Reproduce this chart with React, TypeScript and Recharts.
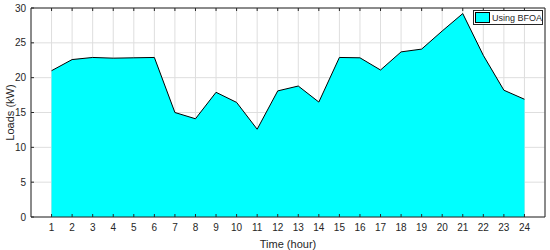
import { ComposedChart, Area, XAxis, YAxis, CartesianGrid, Legend } from 'recharts';

const hours = [1, 2, 3, 4, 5, 6, 7, 8, 9, 10, 11, 12, 13, 14, 15, 16, 17, 18, 19, 20, 21, 22, 23, 24];
const loadsBFOA = [21.0, 22.6, 22.9, 22.8, 22.85, 22.9, 15.0, 14.1, 17.9, 16.45, 12.6, 18.1, 18.8, 16.5, 22.9, 22.85, 21.1, 23.7, 24.1, 26.7, 29.2, 23.2, 18.2, 16.9];
const xTicks = hours;
const yTicks = [0, 5, 10, 15, 20, 25, 30];

const data = hours.map((h, i) => ({ hour: h, load: loadsBFOA[i] }));

const FONT = '"Liberation Sans", Arial, Helvetica, sans-serif';
const INK = '#262626';
const TICK_LEN = 3;
const X_MARGIN = 6;
const Y_MARGIN = 5;

const BottomTick = ({ x, y, payload }: any) => (
    <g>
        <line x1={x} x2={x} y1={y - X_MARGIN} y2={y - X_MARGIN - TICK_LEN} stroke={INK} strokeWidth={1} />
        <text x={x} y={y} dy="0.75em" textAnchor="middle" fill={INK} fontSize={10} fontFamily={FONT}>
            {payload.value}
        </text>
    </g>
);

const LeftTick = ({ x, y, payload }: any) => (
    <g>
        <line x1={x + Y_MARGIN} x2={x + Y_MARGIN + TICK_LEN} y1={y} y2={y} stroke={INK} strokeWidth={1} />
        <text x={x} y={y} dy="0.36em" textAnchor="end" fill={INK} fontSize={10} fontFamily={FONT}>
            {payload.value}
        </text>
    </g>
);

const TopTick = ({ x, y }: any) => (
    <line x1={x} x2={x} y1={y} y2={y + TICK_LEN} stroke={INK} strokeWidth={1} />
);

const RightTick = ({ x, y }: any) => (
    <line x1={x} x2={x - TICK_LEN} y1={y} y2={y} stroke={INK} strokeWidth={1} />
);

const YLabel = ({ viewBox }: any) => {
    const cx = viewBox.x + 10;
    const cy = viewBox.y + viewBox.height / 2;
    return (
        <text x={cx} y={cy} transform={`rotate(-90, ${cx}, ${cy})`} textAnchor="middle" dominantBaseline="central" fill={INK} fontSize={11} fontFamily={FONT}>
            Loads (kW)
        </text>
    );
};

const LegendBox = () => (
    <div style={{ display: 'flex', alignItems: 'center', background: '#fff', border: `1px solid ${INK}`, height: 15, width: 70, padding: '0 1px', fontFamily: FONT, fontSize: 9, color: INK, boxSizing: 'border-box', whiteSpace: 'nowrap' }}>
        <span style={{ display: 'inline-block', width: 13, height: 9, background: '#00FFFF', border: '1px solid #000', marginRight: 2, flexShrink: 0 }} />
        <span>Using BFOA</span>
    </div>
);

const App = () => {
    return (
        <div style={{ position: 'absolute', left: 0, top: 0, width: 550, height: 250, background: '#fff' }}>
            <ComposedChart width={550} height={250} data={data} margin={{ top: 7, right: 4, bottom: 0, left: 0 }}>
                <CartesianGrid stroke="#dedede" strokeWidth={1} />
                <XAxis
                    dataKey="hour"
                    type="number"
                    domain={[0, 25]}
                    ticks={xTicks}
                    interval={0}
                    height={33}
                    tickSize={0}
                    tickMargin={X_MARGIN}
                    tick={<BottomTick />}
                    axisLine={{ stroke: INK }}
                    label={{ value: 'Time (hour)', position: 'insideBottom', offset: 2, fill: INK, fontSize: 11, fontFamily: FONT }}
                />
                <XAxis
                    xAxisId="top"
                    orientation="top"
                    dataKey="hour"
                    type="number"
                    domain={[0, 25]}
                    ticks={xTicks}
                    interval={0}
                    height={1}
                    tickSize={0}
                    tickMargin={0}
                    tick={<TopTick />}
                    axisLine={{ stroke: INK }}
                />
                <YAxis
                    type="number"
                    domain={[0, 30]}
                    ticks={yTicks}
                    interval={0}
                    width={31}
                    tickSize={0}
                    tickMargin={Y_MARGIN}
                    tick={<LeftTick />}
                    axisLine={{ stroke: INK }}
                    label={<YLabel />}
                />
                <YAxis
                    yAxisId="right"
                    orientation="right"
                    type="number"
                    domain={[0, 30]}
                    ticks={yTicks}
                    interval={0}
                    width={1}
                    tickSize={0}
                    tickMargin={0}
                    tick={<RightTick />}
                    axisLine={{ stroke: INK }}
                />
                <Area
                    type="linear"
                    dataKey="load"
                    name="Using BFOA"
                    stroke="#000"
                    strokeWidth={1}
                    fill="#00FFFF"
                    fillOpacity={1}
                    isAnimationActive={false}
                />
                <Legend
                    layout="horizontal"
                    align="center"
                    verticalAlign="middle"
                    wrapperStyle={{ top: 10, left: 473, width: 70 }}
                    content={<LegendBox />}
                />
            </ComposedChart>
        </div>
    );
};

export default App;
